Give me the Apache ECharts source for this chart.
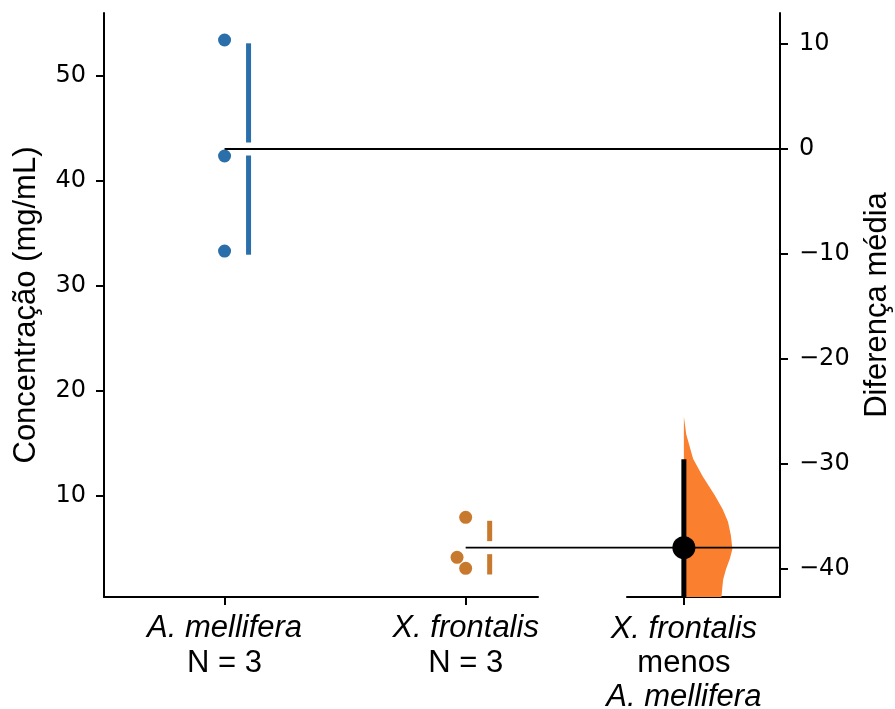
<!DOCTYPE html>
<html><head><meta charset="utf-8">
<script src="https://cdn.jsdelivr.net/npm/echarts@6/dist/echarts.min.js"></script>
<style>html,body{margin:0;padding:0;background:#fff}#c{width:895px;height:709px}</style>
</head><body><div id="c"></div>
<script>
// ---------- data ----------
const groupNames = ['A. mellifera', 'X. frontalis'];
const groupN = ['N = 3', 'N = 3'];
const amellifera = [53.43, 42.38, 33.33];
const xfrontalis = [7.97, 4.16, 3.11];
const diffLabelLines = ['X. frontalis', 'menos', 'A. mellifera'];
const diffCI = [-29.55, -48.5];           // upper / lower bound of 95% CI
const bootValues  = [-25.5, -27.2, -29.5, -31.2, -33.0, -34.3, -35.5, -36.8, -38.1, -39.0, -40.0, -41.0, -41.9, -42.9, -44.0, -46.0, -48.0, -50.0];
const bootDensity = [0, 0.05, 0.19, 0.39, 0.64, 0.80, 0.91, 0.97, 1.0, 0.95, 0.87, 0.81, 0.79, 0.77, 0.70, 0.45, 0.20, 0];
const leftTicks = [10, 20, 30, 40, 50];
const rightTicks = [-40, -30, -20, -10, 0, 10];
const leftRange = [0.38, 56.0];

// ---------- derived stats ----------
const groups = [amellifera, xfrontalis];
const mean = a => a.reduce((s, v) => s + v, 0) / a.length;
const sd = a => { const m = mean(a); return Math.sqrt(a.reduce((s, v) => s + (v - m) * (v - m), 0) / (a.length - 1)); };
const means = groups.map(mean);
const sds = groups.map(sd);
const diff = means[1] - means[0];

// ---------- layout ----------
const L = 104, R0 = 538, L1 = 627, R = 780, TOP = 13, BOT = 112;
const x0min = -0.5, x0max = 1.3;
const k = (R0 - L) / (x0max - x0min);
const x1min = x0max + (L1 - R0) / k;
const x1max = x1min + (R - L1) / k;
const diffX = 1.905;
const colors = ['#2a6fa9', '#c77a2e'];
const violinColor = '#fa7f2f';
const numFont = 'DejaVu Sans';
const txtFont = 'Liberation Sans';

const axisLineStyle = { show: true, onZero: false, lineStyle: { color: '#000', width: 2 } };
const tickStyle = { show: true, length: 8, lineStyle: { color: '#000', width: 2 } };
const minus = v => String(v).replace('-', '\u2212');

function swarm(ys, minDist) {
  const order = ys.map((y, i) => i).sort((a, b) => ys[b] - ys[a]);
  const off = new Array(ys.length).fill(0);
  const placed = [];
  order.forEach(i => {
    const cands = [0];
    placed.forEach(j => {
      const dy = ys[i] - ys[j];
      if (Math.abs(dy) < minDist) {
        const dx = Math.sqrt(minDist * minDist - dy * dy);
        cands.push(off[j] - dx, off[j] + dx);
      }
    });
    cands.sort((a, b) => Math.abs(a) - Math.abs(b) || a - b);
    const ok = c => placed.every(j => {
      const dx = c - off[j], dy = ys[i] - ys[j];
      return dx * dx + dy * dy >= minDist * minDist - 1e-6;
    });
    off[i] = cands.find(ok);
    placed.push(i);
  });
  return off;
}

const rawData = [];
groups.forEach((g, gi) => g.forEach((v, i) => rawData.push([gi, v, i])));

const chart = echarts.init(document.getElementById('c'), null, { renderer: 'canvas' });
chart.setOption({
  animation: false,
  backgroundColor: '#fff',
  grid: [
    { left: L, width: R0 - L, top: TOP, bottom: BOT, containLabel: false, outerBoundsMode: 'none' },
    { left: L1, width: R - L1, top: TOP, bottom: BOT, containLabel: false, outerBoundsMode: 'none' }
  ],
  xAxis: [
    {
      type: 'value', gridIndex: 0, min: x0min, max: x0max, position: 'bottom',
      axisLine: axisLineStyle, splitLine: { show: false },
      axisTick: Object.assign({}, tickStyle, { customValues: [0, 1] }),
      axisLabel: {
        customValues: [0, 1], margin: 14,
        formatter: v => { const i = Math.round(v); return '{i|' + groupNames[i] + '}\n{n|' + groupN[i] + '}'; },
        rich: {
          i: { fontStyle: 'italic', fontSize: 31, fontFamily: txtFont, lineHeight: 35, color: '#000' },
          n: { fontSize: 31, fontFamily: txtFont, lineHeight: 35, color: '#000' }
        }
      }
    },
    {
      type: 'value', gridIndex: 1, min: x1min, max: x1max, position: 'bottom',
      axisLine: axisLineStyle, splitLine: { show: false },
      axisTick: Object.assign({}, tickStyle, { customValues: [diffX] }),
      axisLabel: {
        customValues: [diffX], margin: 15,
        formatter: () => '{i|' + diffLabelLines[0] + '}\n{n|' + diffLabelLines[1] + '}\n{i|' + diffLabelLines[2] + '}',
        rich: {
          i: { fontStyle: 'italic', fontSize: 31, fontFamily: txtFont, lineHeight: 34, color: '#000' },
          n: { fontSize: 31, fontFamily: txtFont, lineHeight: 34, color: '#000' }
        }
      }
    }
  ],
  yAxis: [
    {
      type: 'value', gridIndex: 0, position: 'left', min: leftRange[0], max: leftRange[1],
      axisLine: axisLineStyle, splitLine: { show: false },
      axisTick: Object.assign({}, tickStyle, { customValues: leftTicks }),
      axisLabel: { customValues: leftTicks, margin: 18, fontSize: 24, fontFamily: numFont, color: '#000' },
      name: 'Concentração (mg/mL)', nameLocation: 'middle', nameGap: 62, nameRotate: 90,
      nameTextStyle: { fontSize: 31, fontFamily: txtFont, color: '#000' }
    },
    {
      type: 'value', gridIndex: 1, position: 'right', min: leftRange[0] - means[0], max: leftRange[1] - means[0],
      axisLine: axisLineStyle, splitLine: { show: false },
      axisTick: Object.assign({}, tickStyle, { customValues: rightTicks }),
      axisLabel: { customValues: rightTicks, margin: 19, fontSize: 24, fontFamily: numFont, color: '#000', formatter: minus },
      name: 'Diferença média', nameLocation: 'middle', nameGap: 82, nameRotate: 90,
      nameTextStyle: { fontSize: 31, fontFamily: txtFont, color: '#000' }
    }
  ],
  series: [
    { // half violin of bootstrap distribution
      type: 'custom', xAxisIndex: 1, yAxisIndex: 1, clip: true, z: 1,
      data: [[diffX, diff]],
      renderItem: (params, api) => {
        const cx = api.coord([diffX, diff])[0];
        const maxW = 48.5;
        const pts = bootValues.map((v, i) => [cx + bootDensity[i] * maxW, api.coord([diffX, v])[1]]);
        pts.push([cx, api.coord([diffX, bootValues[bootValues.length - 1]])[1]]);
        pts.push([cx, api.coord([diffX, bootValues[0]])[1]]);
        return { type: 'polygon', shape: { points: pts }, style: { fill: violinColor } };
      }
    },
    { // mean reference lines
      type: 'custom', xAxisIndex: 1, yAxisIndex: 1, clip: false, z: 2,
      data: [[0, 0], [1, diff]],
      renderItem: (params, api) => {
        const a = api.coord([api.value(0), api.value(1)]);
        const b = api.coord([x1max, api.value(1)]);
        return { type: 'line', shape: { x1: a[0], y1: a[1], x2: b[0], y2: b[1] }, style: { stroke: '#000', lineWidth: 1.8 } };
      }
    },
    { // CI line
      type: 'custom', xAxisIndex: 1, yAxisIndex: 1, clip: true, z: 3,
      data: [[diffX, diffCI[0], diffCI[1]]],
      renderItem: (params, api) => {
        const a = api.coord([api.value(0), api.value(1)]);
        const b = api.coord([api.value(0), api.value(2)]);
        return { type: 'line', shape: { x1: a[0], y1: a[1], x2: b[0], y2: b[1] }, style: { stroke: '#000', lineWidth: 5 } };
      }
    },
    { // mean difference dot
      type: 'scatter', xAxisIndex: 1, yAxisIndex: 1, z: 4,
      data: [[diffX, diff]], symbolSize: 23, itemStyle: { color: '#000', opacity: 1 }
    },
    { // swarm points
      type: 'custom', xAxisIndex: 0, yAxisIndex: 0, z: 3,
      data: rawData,
      renderItem: (params, api) => {
        const gi = api.value(0), idx = api.value(2);
        const ys = groups[gi].map(v => api.coord([gi, v])[1]);
        const off = swarm(ys, 14);
        const c = api.coord([gi, api.value(1)]);
        return { type: 'circle', shape: { cx: c[0] + off[idx], cy: c[1], r: 6.5 }, style: { fill: colors[gi] } };
      }
    },
    { // gapped mean ± sd bars
      type: 'custom', xAxisIndex: 0, yAxisIndex: 0, z: 3,
      data: means.map((m, i) => [i, m, sds[i]]),
      renderItem: (params, api) => {
        const gi = api.value(0), m = api.value(1), s = api.value(2);
        const c = api.coord([gi, m]);
        const top = api.coord([gi, m + s])[1], bot = api.coord([gi, m - s])[1];
        const x = c[0] + 24, gap = 6.5;
        const st = { stroke: colors[gi], lineWidth: 5 };
        return { type: 'group', children: [
          { type: 'line', shape: { x1: x, y1: top, x2: x, y2: c[1] - gap }, style: st },
          { type: 'line', shape: { x1: x, y1: c[1] + gap, x2: x, y2: bot }, style: st }
        ] };
      }
    }
  ]
});
</script></body></html>
